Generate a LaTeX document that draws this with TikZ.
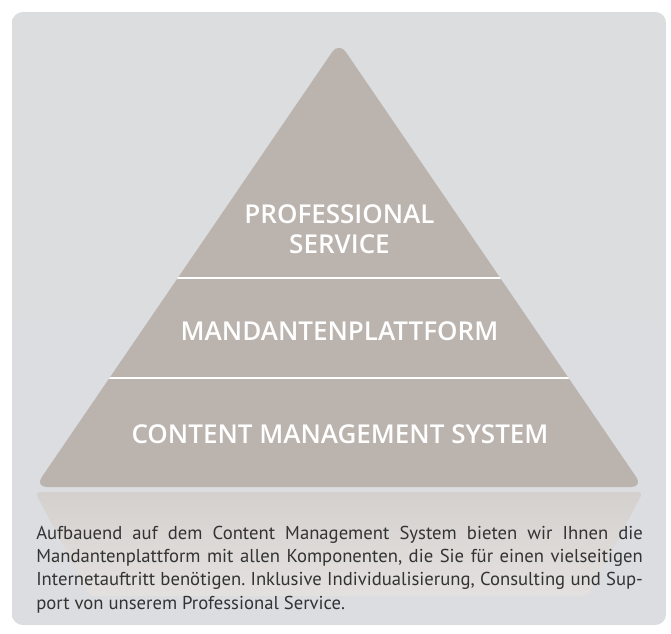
\documentclass[tikz,border=0pt]{standalone}
\usepackage{fontspec}
\setmainfont{PT Sans}
\newfontfamily\headfont{Open Sans}[BoldFont={* Semibold}]
\usepackage{tikz}
\usetikzlibrary{positioning}
\definecolor{panelTop}{HTML}{DCDDDF}
\definecolor{panelMid}{HTML}{F6F6F6}
\definecolor{panelBottom}{HTML}{DCDDE0}
\definecolor{pyramid}{HTML}{BAB3AE}
\definecolor{mirror}{HTML}{D4D0CD}
\definecolor{bodygray}{HTML}{333333}

\begin{document}
\begin{tikzpicture}[y=-0.75pt,x=0.75pt]
	\newcommand\Pyramid{(339,42) -- (643,487) -- (35,487) -- cycle}
	\tikzset{
		head/.style={text=white, font=\headfont\bfseries\fontsize{19.5}{22.5}\selectfont, align=center, inner sep=0pt},
		blurb/.style={text=bodygray, font=\frenchspacing\fontsize{14}{17.5}\selectfont, text width=455pt, align=justify, inner sep=0pt},
		divider/.style={white, line width=2pt},
	}
	\useasboundingbox (0,0) rectangle (671,633);

	% panel and reflection
	\shade[top color=panelTop, middle color=panelMid, bottom color=panelBottom, rounded corners=8pt] (12,12) rectangle (666,625);
	\shade[top color=mirror, bottom color=mirror!55!panelMid, rounded corners=4pt] (35,492) -- (643,492) -- (588,596) -- (90,596) -- cycle;

	% pyramid with its two cuts
	\fill[pyramid, rounded corners=9pt] \Pyramid;
	\begin{scope}
		\clip \Pyramid;
		\draw[divider] (0,278) -- (671,278);
		\draw[divider] (0,378) -- (671,378);
	\end{scope}

	\node[head] (service) at (339.5,229) {PROFESSIONAL\\SERVICE};
	\node[head] (platform) at (339.5,331) {MANDANTENPLATTFORM};
	\node[head] (cms) at (340,434) {CONTENT MANAGEMENT SYSTEM};

	\node[blurb, anchor=north west] (text) at (36,525.5) {Aufbauend auf dem Content Management System bieten wir Ihnen die\linebreak Mandantenplattform mit allen Komponenten, die Sie f\"ur einen vielseitigen\linebreak Internetauftritt ben\"otigen. Inklusive Individualisierung, Consulting und Sup-\linebreak port von unserem Professional Service.};
\end{tikzpicture}
\end{document}
